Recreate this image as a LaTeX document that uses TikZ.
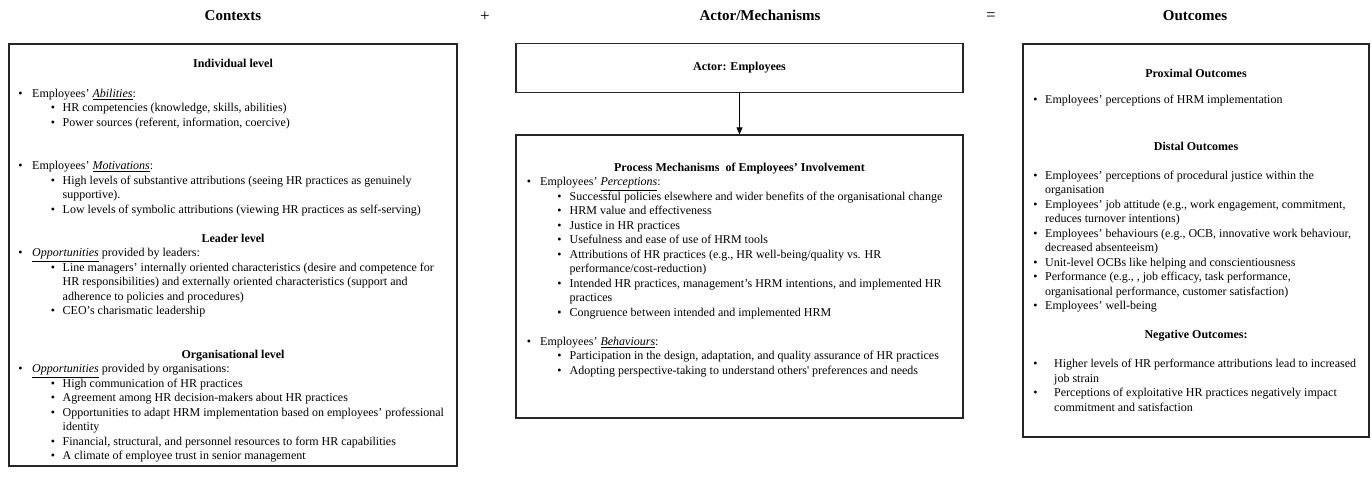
\documentclass[tikz,border=0pt]{standalone}
\usepackage{fontspec}
\setmainfont{Liberation Serif}
\usetikzlibrary{arrows.meta}

\newcommand{\bodyfont}{\fontsize{12}{14.5}\selectfont}
\newcommand{\ulit}[1]{\underline{\textit{#1}}}

% one row of a box: #1 name, #2 level, #3 y, #4 text
% level 0 heading, 1 bullet, 2 sub-bullet, 3 sub continuation, 4 continuation
\newcommand{\listrow}[4]{%
  \ifcase#2
    \node[hd] (#1) at (\hx,#3) {#4};
  \or
    \node[bul] (#1-b) at (\bxa,#3) {\textbullet};
    \node[txt] (#1) at (\txa,#3) {#4};
  \or
    \node[bul] (#1-b) at (\bxb,#3) {\textbullet};
    \node[txt] (#1) at (\txb,#3) {#4};
  \or
    \node[txt] (#1) at (\txb,#3) {#4};
  \or
    \node[txt] (#1) at (\txa,#3) {#4};
  \fi}

\tikzset{
  panel/.style={draw=black!85, line width=1.2pt, inner sep=0pt},
  ttl/.style={font=\fontsize{15}{18}\selectfont\bfseries, inner sep=0pt, anchor=mid},
  hd/.style={font=\bodyfont\bfseries, inner sep=0pt, anchor=mid},
  txt/.style={font=\bodyfont, anchor=mid west, inner sep=0pt},
  bul/.style={font=\bodyfont, anchor=mid, inner sep=0pt},
  sym/.style={font=\fontsize{17}{18}\selectfont, inner sep=0pt}
}

\begin{document}
\begin{tikzpicture}[x=1pt, y=-1pt, >={Triangle[length=7pt,width=6pt]}]
\useasboundingbox (0,0) rectangle (1372,477);

% column titles
\node[ttl] (t-ctx) at (233,18) {Contexts};
\node[sym] (plus) at (485,17) {+};
\node[ttl] (t-act) at (760,18) {Actor/Mechanisms};
\node[sym] (eq) at (991,17) {=};
\node[ttl] (t-out) at (1195,18) {Outcomes};

% boxes
\node[panel, minimum width=448pt, minimum height=422pt] (ctx) at (233,255) {};
\node[panel, hd, minimum width=447pt, minimum height=49pt] (actor) at (739.5,68.5) {Actor: Employees};
\node[panel, minimum width=447pt, minimum height=283pt] (proc) at (739.5,276.5) {};
\node[panel, minimum width=346pt, minimum height=393pt] (out) at (1196,240.5) {};
\draw[->, line width=0.8pt] (actor) -- (proc);

% contexts
\def\hx{233}\def\bxa{20.5}\def\txa{32}\def\bxb{53}\def\txb{62.5}
\foreach \yy/\lvl/\tx [count=\i] in {
  65/0/{Individual level},
  95/1/{Employees' \ulit{Abilities}:},
  109.5/2/{HR competencies (knowledge, skills, abilities)},
  124/2/{Power sources (referent, information, coercive)},
  167.5/1/{Employees' \ulit{Motivations}:},
  182/2/{High levels of substantive attributions (seeing HR practices as genuinely},
  196.5/3/{supportive).},
  211/2/{Low levels of symbolic attributions (viewing HR practices as self-serving)},
  240/0/{Leader level},
  254.5/1/{\ulit{Opportunities} provided by leaders:},
  269/2/{Line managers' internally oriented characteristics (desire and competence for},
  283.5/3/{HR responsibilities) and externally oriented characteristics (support and},
  298/3/{adherence to policies and procedures)},
  312.5/2/{CEO's charismatic leadership},
  356/0/{Organisational level},
  370.5/1/{\ulit{Opportunities} provided by organisations:},
  385/2/{High communication of HR practices},
  399.5/2/{Agreement among HR decision-makers about HR practices},
  414/2/{Opportunities to adapt HRM implementation based on employees' professional},
  428.5/3/{identity},
  443/2/{Financial, structural, and personnel resources to form HR capabilities},
  457.5/2/{A climate of employee trust in senior management}}
  {\listrow{ctx-\i}{\lvl}{\yy}{\tx}}

% mechanisms
\def\hx{739.5}\def\bxa{529}\def\txa{540}\def\bxb{559.5}\def\txb{569.5}
\foreach \yy/\lvl/\tx [count=\i] in {
  169/0/{Process Mechanisms\ \ of Employees' Involvement},
  183.5/1/{Employees' \ulit{Perceptions}:},
  198/2/{Successful policies elsewhere and wider benefits of the organisational change},
  212.5/2/{HRM value and effectiveness},
  227/2/{Justice in HR practices},
  241.5/2/{Usefulness and ease of use of HRM tools},
  256/2/{Attributions of HR practices (e.g., HR well-being/quality vs. HR},
  270.5/3/{performance/cost-reduction)},
  285/2/{Intended HR practices, management's HRM intentions, and implemented HR},
  299.5/3/{practices},
  314/2/{Congruence between intended and implemented HRM},
  343/1/{Employees' \ulit{Behaviours}:},
  357.5/2/{Participation in the design, adaptation, and quality assurance of HR practices},
  372/2/{Adopting perspective-taking to understand others\textquotesingle\ preferences and needs}}
  {\listrow{prc-\i}{\lvl}{\yy}{\tx}}

% outcomes
\def\hx{1196}\def\bxa{1035.5}\def\txa{1045}
\foreach \yy/\lvl/\tx [count=\i] in {
  75/0/{Proximal Outcomes},
  101/1/{Employees' perceptions of HRM implementation},
  148/0/{Distal Outcomes},
  177/1/{Employees' perceptions of procedural justice within the},
  191.5/4/{organisation},
  206/1/{Employees' job attitude (e.g., work engagement, commitment,},
  220.5/4/{reduces turnover intentions)},
  235/1/{Employees' behaviours (e.g., OCB, innovative work behaviour,},
  249.5/4/{decreased absenteeism)},
  264/1/{Unit-level OCBs like helping and conscientiousness},
  278.5/1/{Performance (e.g., , job efficacy, task performance,},
  293/4/{organisational performance, customer satisfaction)},
  307.5/1/{Employees' well-being},
  336.5/0/{Negative Outcomes:}}
  {\listrow{out-\i}{\lvl}{\yy}{\tx}}
\def\txa{1054}
\foreach \yy/\lvl/\tx [count=\i] in {
  365.5/1/{Higher levels of HR performance attributions lead to increased},
  380/4/{job strain},
  394.5/1/{Perceptions of exploitative HR practices negatively impact},
  409/4/{commitment and satisfaction}}
  {\listrow{neg-\i}{\lvl}{\yy}{\tx}}
\end{tikzpicture}
\end{document}
